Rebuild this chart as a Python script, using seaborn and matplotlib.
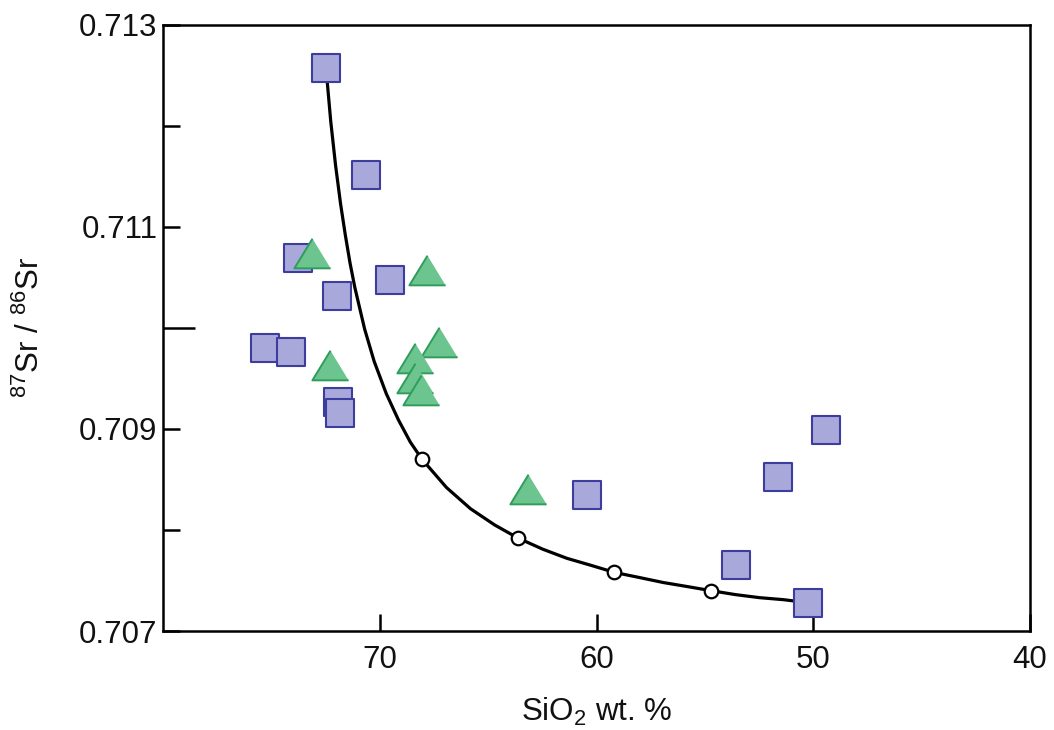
import numpy as np
import pandas as pd
import seaborn as sns
import matplotlib.pyplot as plt
from matplotlib.ticker import FixedLocator, FuncFormatter

# 数据都是从原图上一点点读出来的，估计值
sq_sio2 = [72.48, 70.63, 73.77, 71.97, 69.52, 75.29, 74.09, 71.92, 71.83,
           60.43, 51.62, 49.40, 53.56, 50.25]
sq_sr = [0.71257, 0.71151, 0.71069, 0.71032, 0.71048, 0.70980, 0.70976, 0.70927, 0.70916,
         0.70835, 0.70852, 0.70899, 0.70765, 0.70728]

tri_sio2 = [73.12, 67.80, 67.25, 68.37, 68.37, 68.10, 72.29, 63.17]
tri_sr = [0.71074, 0.71057, 0.70986, 0.70970, 0.70950, 0.70939, 0.70963, 0.70841]

# 混合曲线，沿着线多读几个点，拐弯那里读密一点
curve_sio2 = [72.48, 72.26, 72.04, 71.81, 71.59, 71.37, 71.15, 70.70, 70.26, 69.70,
              69.14, 68.59, 68.05, 66.92, 65.81, 64.70, 63.62, 62.48, 61.37, 60.25,
              59.17, 58.03, 56.92, 55.81, 54.73, 53.58, 52.47, 51.36, 50.25]
curve_sr = [0.71257, 0.71204, 0.71161, 0.71123, 0.71092, 0.71064, 0.71040, 0.70999,
            0.70967, 0.70935, 0.70909, 0.70887, 0.70870, 0.70842, 0.70821, 0.70805,
            0.70792, 0.70781, 0.70772, 0.70765, 0.70758, 0.70753, 0.70748, 0.70744,
            0.70740, 0.70736, 0.70733, 0.70731, 0.70728]

# 曲线上的空心小圆圈
tick_sio2 = [68.05, 63.62, 59.17, 54.73]
tick_sr = [0.70870, 0.70792, 0.70758, 0.70740]

sns.set_theme(style="white")
plt.rcParams["font.family"] = ["Liberation Sans", "DejaVu Sans"]
plt.rcParams["mathtext.fontset"] = "custom"
plt.rcParams["mathtext.rm"] = "Liberation Sans"
plt.rcParams["mathtext.it"] = "Liberation Sans:italic"
plt.rcParams["mathtext.default"] = "rm"

fig = plt.figure(figsize=(10.54, 7.30), dpi=100)
ax = fig.add_axes([0.1547, 0.1356, 0.8225, 0.8302])

curve_df = pd.DataFrame({"SiO2": curve_sio2, "Sr": curve_sr})
sns.lineplot(data=curve_df, x="SiO2", y="Sr", sort=False, color="black",
             linewidth=2.3, ax=ax, zorder=2)

sns.scatterplot(x=tick_sio2, y=tick_sr, marker="o", s=95, color="white",
                edgecolor="black", linewidth=1.6, ax=ax, zorder=3)

sns.scatterplot(x=sq_sio2, y=sq_sr, marker="s", s=390, color="#a8a8da",
                edgecolor="#3d3d9e", linewidth=1.5, ax=ax, zorder=4)

tri_marker = [(0, 0.82), (-1, -0.82), (1, -0.82)]
sns.scatterplot(x=tri_sio2, y=tri_sr, marker=tri_marker, s=680, color="#6cc48e",
                edgecolor="#2f9c5c", linewidth=1.4, ax=ax, zorder=5)

ax.set_xlim(80, 40)
ax.set_ylim(0.707, 0.713)

ax.xaxis.set_major_locator(FixedLocator([70, 60, 50, 40]))
ax.yaxis.set_major_locator(FixedLocator([0.707, 0.708, 0.709, 0.710, 0.711, 0.712, 0.713]))
ax.yaxis.set_major_formatter(FuncFormatter(
    lambda v, p: f"{v:.3f}" if round(v * 1000) % 2 == 1 else ""))

# seaborn 的 white 风格默认把刻度关了，这里手动打开
ax.tick_params(axis="both", direction="in", length=12, width=1.8, labelsize=22.5,
               color="black", labelcolor="#111111", bottom=True, left=True,
               top=False, right=False)
ax.tick_params(axis="y", pad=4)
ax.tick_params(axis="x", pad=10)
# 0.710 那根刻度原图里画得长一些
ax.yaxis.get_major_ticks()[3].tick1line.set_markersize(23)

for side in ["top", "bottom", "left", "right"]:
    ax.spines[side].set_color("black")
    ax.spines[side].set_linewidth(1.8)

ax.set_xlabel("SiO$_2$ wt. %", fontsize=22.5, labelpad=15, color="#111111")
ax.set_ylabel("$^{87}$Sr / $^{86}$Sr", fontsize=22.5, labelpad=24, color="#111111")

fig.savefig("out.png", dpi=100)
